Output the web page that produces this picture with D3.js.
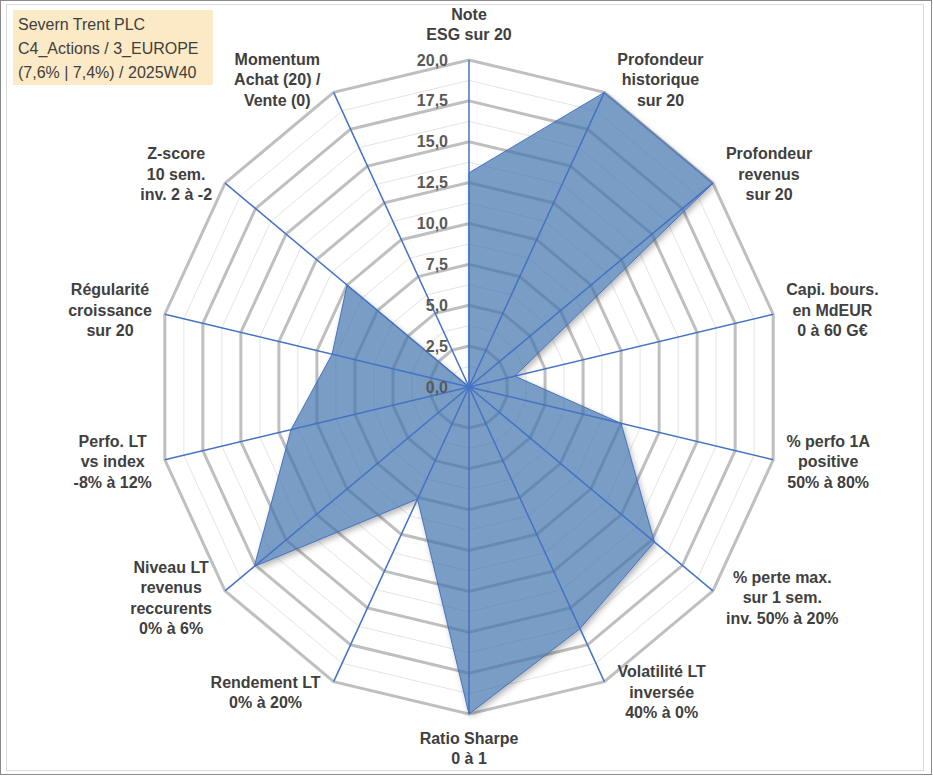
<!DOCTYPE html>
<html>
<head>
<meta charset="utf-8">
<script src="https://cdn.jsdelivr.net/npm/d3@7"></script>
<style>
  body { margin: 0; background: #fff; }
  svg { display: block; font-family: 'Liberation Sans', Arial, sans-serif; }
</style>
</head>
<body>
<svg id="chart" width="933" height="776"></svg>
<script>
// axis names, one entry per line of the label
const axisLabels = [
  ['Note', 'ESG sur 20'],
  ['Profondeur', 'historique', 'sur 20'],
  ['Profondeur', 'revenus', 'sur 20'],
  ['Capi. bours.', 'en MdEUR', '0 à 60 G€'],
  ['% perfo 1A', 'positive', '50% à 80%'],
  ['% perte max.', 'sur 1 sem.', 'inv. 50% à 20%'],
  ['Volatilité LT', 'inversée', '40% à 0%'],
  ['Ratio Sharpe', '0 à 1'],
  ['Rendement LT', '0% à 20%'],
  ['Niveau LT', 'revenus', 'reccurents', '0% à 6%'],
  ['Perfo. LT', 'vs index', '-8% à 12%'],
  ['Régularité', 'croissance', 'sur 20'],
  ['Z-score', '10 sem.', 'inv. 2 à -2'],
  ['Momentum', 'Achat (20) /', 'Vente (0)']
];
const scores = [13.1, 20, 20, 3.0, 10.0, 15.2, 16.4, 20, 7.6, 17.6, 11.7, 9.0, 10.0, 0];
const tickValues = [0, 2.5, 5, 7.5, 10, 12.5, 15, 17.5, 20];
const minorValues = [1.25, 3.75, 6.25, 8.75, 11.25, 13.75, 16.25, 18.75];
const titleLines = ['Severn Trent PLC', 'C4_Actions / 3_EUROPE', '(7,6% | 7,4%) / 2025W40'];

const svg = d3.select('#chart');
const cx = 469, cy = 387;
const n = axisLabels.length;

const angle = d3.scaleLinear().domain([0, n]).range([0, 2 * Math.PI]);
const rX = d3.scaleLinear().domain([0, 20]).range([0, 312]);
const rY = d3.scaleLinear().domain([0, 20]).range([0, 327]);
const pt = (i, v) => [cx + rX(v) * Math.sin(angle(i)), cy - rY(v) * Math.cos(angle(i))];
const ring = d3.line().curve(d3.curveLinearClosed);
const fmt = v => d3.format('.1f')(v).replace('.', ',');

// frame
svg.append('rect').attr('x', 0.5).attr('y', 0.5).attr('width', 931).attr('height', 774)
  .attr('fill', '#fff').attr('stroke', '#8a8a8a');
svg.append('rect').attr('x', 6.5).attr('y', 4.5).attr('width', 917).attr('height', 766)
  .attr('fill', 'none').attr('stroke', '#dadada');

const idx = d3.range(n);
const seriesPath = ring(scores.map((v, i) => pt(i, v)));

const defs = svg.append('defs');
defs.append('filter').attr('id', 'blur').attr('x', '-10%').attr('y', '-10%').attr('width', '120%').attr('height', '120%')
  .append('feGaussianBlur').attr('stdDeviation', 3);
const mask = defs.append('mask').attr('id', 'outside');
mask.append('rect').attr('width', 933).attr('height', 776).attr('fill', '#fff');
mask.append('path').attr('d', seriesPath).attr('fill', '#000');

// gridlines
svg.append('g').selectAll('path').data(minorValues).join('path')
  .attr('d', v => ring(idx.map(i => pt(i, v))))
  .attr('fill', 'none').attr('stroke', '#e4e4e4').attr('stroke-width', 1);
svg.append('g').selectAll('path').data(tickValues.filter(v => v > 0)).join('path')
  .attr('d', v => ring(idx.map(i => pt(i, v))))
  .attr('fill', 'none').attr('stroke', '#bfbfbf').attr('stroke-width', 3);

// series: soft shadow outside the shape, then the translucent fill
svg.append('g').attr('mask', 'url(#outside)')
  .append('path').attr('d', seriesPath)
  .attr('transform', 'translate(2,3)')
  .attr('fill', '#000').attr('fill-opacity', 0.3)
  .attr('filter', 'url(#blur)');
svg.append('path')
  .attr('d', seriesPath)
  .attr('fill', '#4273ae').attr('fill-opacity', 0.7)
  .attr('stroke', '#4472c4').attr('stroke-width', 1);

// spokes
svg.append('g').selectAll('line').data(idx).join('line')
  .attr('x1', cx).attr('y1', cy)
  .attr('x2', i => pt(i, 20)[0]).attr('y2', i => pt(i, 20)[1])
  .attr('stroke', '#4472c4').attr('stroke-width', 1.5);

// radial tick labels
svg.append('g').selectAll('text').data(tickValues).join('text')
  .attr('x', 448).attr('y', v => cy - rY(v) + 5.5)
  .attr('text-anchor', 'end')
  .attr('font-size', 16).attr('font-weight', 'bold').attr('fill', '#595959')
  .text(fmt);

// axis labels
const lh = 20.5;
const labels = svg.append('g').selectAll('g').data(axisLabels).join('g');
labels.each(function (lines, i) {
  const g = d3.select(this);
  const t = g.append('text').attr('text-anchor', 'middle')
    .attr('font-size', 16).attr('font-weight', 'bold').attr('fill', '#404040');
  lines.forEach((s, k) => {
    t.append('tspan').attr('x', 0).attr('y', (k - (lines.length - 1) / 2) * lh + 5.5).text(s);
  });
  const w = t.node().getBBox().width;
  const h = lines.length * lh;
  const [vx, vy] = pt(i, 20);
  const sa = Math.sin(angle(i)), ca = Math.cos(angle(i));
  let lx, ly;
  if (Math.abs(sa) < 0.01) {
    lx = vx;
    ly = ca > 0 ? vy - h / 2 - 15 : vy + h / 2 + 14;
  } else {
    lx = vx + Math.sign(sa) * (w / 2 + 13);
    ly = vy - ca * 13 - 1;
  }
  g.attr('transform', `translate(${lx},${ly})`);
});

// title box
svg.append('rect').attr('x', 13).attr('y', 10).attr('width', 200).attr('height', 75).attr('fill', '#fce9c5');
svg.append('g').selectAll('text').data(titleLines).join('text')
  .attr('x', 18).attr('y', (d, k) => 30 + k * 24)
  .attr('font-size', 16).attr('fill', '#404040')
  .text(d => d);
</script>
</body>
</html>
